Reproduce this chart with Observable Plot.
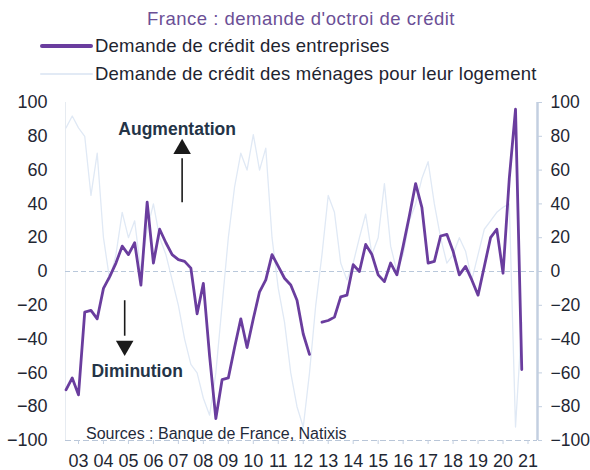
<!DOCTYPE html>
<html>
<head>
<meta charset="utf-8">
<script src="https://cdn.jsdelivr.net/npm/d3@7"></script>
<script src="https://cdn.jsdelivr.net/npm/@observablehq/plot@0.6"></script>
<style>
  html, body { margin: 0; padding: 0; background: #fff; }
  #wrap { width: 590px; height: 470px; position: relative; overflow: hidden; font-family: "Liberation Sans", Arial, sans-serif; }
  #head { height: 88px; position: relative; }
  .title { position: absolute; top: 8px; left: 6px; width: 590px; text-align: center; color: #6b4f96; font-size: 18.5px; letter-spacing: 0.5px; }
  .leg { position: absolute; left: 40px; font-size: 18.5px; color: #1e2430; display: flex; align-items: center; white-space: nowrap; letter-spacing: 0.2px; }
  .leg .sw { width: 53px; margin-right: 2px; border-radius: 2px; }
  #chart svg { display: block; }
</style>
</head>
<body>
<div id="wrap">
  <div id="head">
    <div class="title" id="title"></div>
    <div class="leg" id="leg1" style="top:35px"><span class="sw" style="height:4px;background:#6a3d9e"></span><span id="l1"></span></div>
    <div class="leg" id="leg2" style="top:63px"><span class="sw" style="height:2px;background:#e2eaf5"></span><span id="l2"></span></div>
  </div>
  <div id="chart"></div>
</div>
<script>
// ---- Texts ----
const titleText = "France : demande d'octroi de crédit";
const seriesNames = ["Demande de crédit des entreprises", "Demande de crédit des ménages pour leur logement"];
const sourceText = "Sources : Banque de France, Natixis";

// ---- Data (quarterly, first quarter = 2002 T3) ----
const firstQuarter = 2002.5;
const entreprises = [-70,-63,-73,-24,-23,-28,-10,-3,5,15,10,17,-8,41,5,25,17,10,7,6,2,-25,-7,-50,-87,-64,-63,-45,-28,-45,-28,-12,-5,10,3,-4,-8,-17,-37,-49,null,-30,-29,-27,-15,-14,4,0,16,10,-2,-6,5,-2,15,33,52,38,5,6,21,22,12,-2,3,-5,-14,3,20,25,-1,55,96,-58];
const menages = [85,92,85,80,45,70,20,-5,10,35,20,30,0,25,40,20,10,-5,-20,-40,-55,-60,-75,-85,-60,-20,20,50,70,60,81,60,73,20,-10,-30,-60,-80,-92,-60,-20,10,45,35,5,-5,5,20,34,10,20,52,15,0,10,30,40,55,65,40,20,5,10,20,12,-5,10,25,30,35,38,40,-92,-30];

// ---- Axes ----
const yearTicks = d3.range(2003, 2022);
const yTicks = d3.range(-100, 101, 20);
const xDomain = [2002.48, 2021.38];
const yDomain = [-100, 100];

// ---- Annotations ----
const bigLabels = [
  {t: 2006.95, v: 84, text: "Augmentation"},
  {t: 2005.35, v: -59, text: "Diminution"}
];
const sourceLabel = [{t: 2003.3, v: -96, text: sourceText}];
const arrows = [
  {t: 2007.15, v1: 41, v2: 67, head: 72.5, rot: 0},
  {t: 2004.85, v1: -17, v2: -38, head: -44, rot: 180}
];

const data = entreprises.map((e, i) => ({t: firstQuarter + i / 4, ent: e, men: menages[i]}));

document.getElementById("title").textContent = titleText;
document.getElementById("l1").textContent = seriesNames[0];
document.getElementById("l2").textContent = seriesNames[1];

const axisColor = "#c3cfe0";
const textColor = "#1f2733";

const plot = Plot.plot({
  width: 590,
  height: 382,
  marginTop: 14,
  marginBottom: 30,
  marginLeft: 65,
  marginRight: 53,
  style: {fontFamily: "Liberation Sans, Arial, sans-serif", fontSize: "18px", color: textColor, background: "white"},
  x: {domain: xDomain},
  y: {domain: yDomain},
  marks: [
    Plot.ruleX([xDomain[0]], {stroke: "#e6ebf1", strokeWidth: 1}),
    Plot.ruleY([0], {stroke: "#b9c8db", strokeWidth: 1.2, strokeDasharray: "5,3"}),
    Plot.ruleY([-100], {stroke: "#b9c6d8", strokeWidth: 1.2, strokeDasharray: "6,3"}),
    Plot.ruleX([xDomain[1]], {stroke: axisColor, strokeWidth: 2.5}),
    Plot.line(data, {x: "t", y: "men", stroke: "#e0e9f5", strokeWidth: 1.3}),
    Plot.line(data, {x: "t", y: "ent", stroke: "#6a3d9e", strokeWidth: 2.8, strokeLinejoin: "round"}),
    Plot.axisY({anchor: "left", ticks: yTicks, tickSize: 0, tickPadding: 18, label: null, fill: textColor, fontSize: 18}),
    Plot.axisY({anchor: "right", ticks: yTicks, tickSize: 4, tickPadding: 9, stroke: axisColor, label: null, fill: textColor, fontSize: 17.5}),
    Plot.axisX({anchor: "bottom", ticks: yearTicks, tickSize: 4, tickPadding: 10, stroke: axisColor, label: null, fill: textColor, fontSize: 18,
      tickFormat: d => String(d % 100).padStart(2, "0")}),
    Plot.link(arrows, {x1: "t", x2: "t", y1: "v1", y2: "v2", stroke: "#1a1a1a", strokeWidth: 1.6}),
    Plot.dot(arrows, {x: "t", y: "head", symbol: "triangle", r: 6.5, fill: "#1a1a1a", stroke: "none", rotate: "rot"}),
    Plot.text(bigLabels, {x: "t", y: "v", text: "text", textAnchor: "middle", fill: "#243447", fontSize: 17.5, fontWeight: "bold", letterSpacing: 0.4}),
    Plot.text(sourceLabel, {x: "t", y: "v", text: "text", textAnchor: "start", fill: "#1f2a3a", fontSize: 16, letterSpacing: -0.2})
  ]
});
document.getElementById("chart").appendChild(plot);
</script>
</body>
</html>
